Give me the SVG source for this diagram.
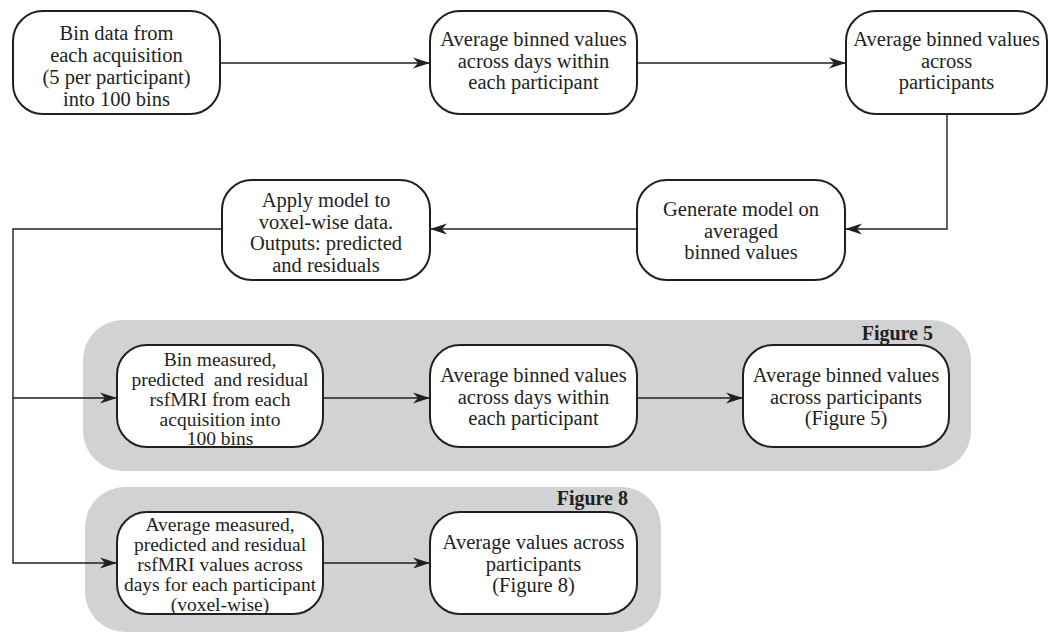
<svg xmlns="http://www.w3.org/2000/svg" width="1049" height="637" viewBox="0 0 1049 637">
<defs>
<style>
.bg{fill:#d1d2d4;stroke:none}
.box{fill:#ffffff;stroke:#231f20;stroke-width:2}
.t{font-family:"Liberation Serif","Times New Roman",serif;font-size:20.5px;fill:#231f20;text-anchor:middle}
.s{font-size:19.5px}
.fig{font-family:"Liberation Serif","Times New Roman",serif;font-size:20px;font-weight:bold;fill:#231f20;text-anchor:end}
.c{fill:none;stroke:#231f20;stroke-width:1.4}
</style>
<marker id="ah" markerUnits="userSpaceOnUse" markerWidth="18" markerHeight="12" refX="17" refY="6" orient="auto">
<path d="M0,0.5 L17,6 L0,11.5 L5,6 Z" fill="#231f20"/>
</marker>
</defs>
<rect width="1049" height="637" fill="#ffffff"/>
<g id="group-fig5">
<rect class="bg" x="83" y="320" width="888" height="151" rx="40"/>
<text class="fig" x="933" y="340">Figure 5</text>
</g>
<g id="group-fig8">
<rect class="bg" x="85" y="487" width="576" height="145" rx="40"/>
<text class="fig" x="628" y="505">Figure 8</text>
</g>
<g id="connectors">
<line class="c" x1="220" y1="63" x2="430" y2="63" marker-end="url(#ah)"/>
<line class="c" x1="637" y1="63" x2="846" y2="63" marker-end="url(#ah)"/>
<polyline class="c" points="947,114 947,229 845,229" marker-end="url(#ah)"/>
<line class="c" x1="637" y1="229" x2="430" y2="229" marker-end="url(#ah)"/>
<polyline class="c" points="222,229 13,229 13,398 117,398" marker-end="url(#ah)"/>
<polyline class="c" points="13,398 13,563 117,563" marker-end="url(#ah)"/>
<line class="c" x1="323" y1="398" x2="430" y2="398" marker-end="url(#ah)"/>
<line class="c" x1="637" y1="398" x2="743" y2="398" marker-end="url(#ah)"/>
<line class="c" x1="323" y1="563" x2="430" y2="563" marker-end="url(#ah)"/>
</g>
<g id="n1">
<rect class="box" x="13" y="11" width="207" height="103" rx="30"/>
<text class="t" x="116.5" y="40">Bin data from</text>
<text class="t" x="116.5" y="62">each acquisition</text>
<text class="t" x="116.5" y="84">(5 per participant)</text>
<text class="t" x="116.5" y="106">into 100 bins</text>
</g>
<g id="n2">
<rect class="box" x="430" y="11" width="207" height="103" rx="30"/>
<text class="t" x="533.5" y="46">Average binned values</text>
<text class="t" x="533.5" y="67.5">across days within</text>
<text class="t" x="533.5" y="89">each participant</text>
</g>
<g id="n3">
<rect class="box" x="846" y="11" width="201" height="103" rx="30"/>
<text class="t" x="946.5" y="46">Average binned values</text>
<text class="t" x="946.5" y="67.5">across</text>
<text class="t" x="946.5" y="89">participants</text>
</g>
<g id="n4">
<rect class="box" x="222" y="180" width="208" height="100" rx="30"/>
<text class="t" x="326" y="207">Apply model to</text>
<text class="t" x="326" y="228.5">voxel-wise data.</text>
<text class="t" x="326" y="250">Outputs: predicted</text>
<text class="t" x="326" y="271.5">and residuals</text>
</g>
<g id="n5">
<rect class="box" x="637" y="180" width="208" height="100" rx="30"/>
<text class="t" x="741" y="216">Generate model on</text>
<text class="t" x="741" y="237.5">averaged</text>
<text class="t" x="741" y="259">binned values</text>
</g>
<g id="n6">
<rect class="box" x="117" y="345" width="206" height="102" rx="30"/>
<text class="t s" x="220" y="366">Bin measured,</text>
<text class="t s" x="220" y="386" xml:space="preserve">predicted  and residual</text>
<text class="t s" x="220" y="406">rsfMRI from each</text>
<text class="t s" x="220" y="426">acquisition into</text>
<text class="t s" x="220" y="445">100 bins</text>
</g>
<g id="n7">
<rect class="box" x="430" y="345" width="207" height="102" rx="30"/>
<text class="t" x="533.5" y="382">Average binned values</text>
<text class="t" x="533.5" y="403.5">across days within</text>
<text class="t" x="533.5" y="425">each participant</text>
</g>
<g id="n8">
<rect class="box" x="743" y="345" width="206" height="102" rx="30"/>
<text class="t" x="846" y="382">Average binned values</text>
<text class="t" x="846" y="403.5">across participants</text>
<text class="t" x="846" y="425">(Figure 5)</text>
</g>
<g id="n9">
<rect class="box" x="117" y="512" width="206" height="102" rx="30"/>
<text class="t s" x="220" y="531">Average measured,</text>
<text class="t s" x="220" y="551">predicted and residual</text>
<text class="t s" x="220" y="571">rsfMRI values across</text>
<text class="t s" x="220" y="591">days for each participant</text>
<text class="t s" x="220" y="611">(voxel-wise)</text>
</g>
<g id="n10">
<rect class="box" x="430" y="512" width="207" height="102" rx="30"/>
<text class="t" x="533.5" y="549">Average values across</text>
<text class="t" x="533.5" y="570.5">participants</text>
<text class="t" x="533.5" y="592">(Figure 8)</text>
</g>
</svg>
